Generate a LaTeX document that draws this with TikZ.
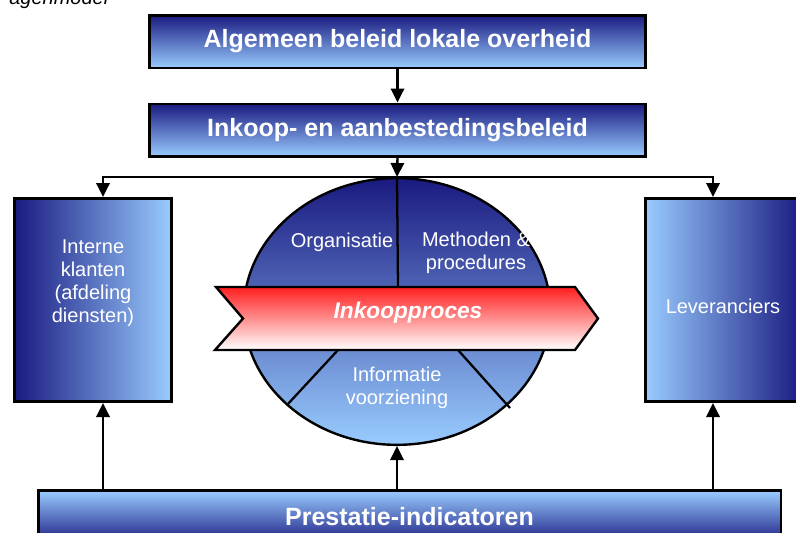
\documentclass[tikz,border=0pt]{standalone}
\usepackage{fontspec}
\setmainfont{Liberation Sans}
\usepackage{tikz}
\usetikzlibrary{arrows.meta,positioning,shapes.geometric}
\definecolor{navy}{RGB}{26,26,128}
\definecolor{sky}{RGB}{153,204,255}
\definecolor{procred}{RGB}{255,30,30}

\begin{document}
\begin{tikzpicture}[
  x=0.75pt, y=-0.75pt,
  every node/.style={font=\fontsize{15}{17.25}\selectfont, text=white},
  beleidbox/.style={draw, line width=2pt, top color=navy, bottom color=sky, minimum width=372pt, minimum height=39.5pt, inner sep=0pt, font=\fontsize{18.75}{22}\selectfont\bfseries},
  sidebox/.style={draw, line width=2pt, minimum width=118pt, minimum height=152.5pt, inner sep=0pt, align=center},
  edge/.style={-{Triangle[length=10.5pt,width=10pt]}, line width=1.8pt},
  divider/.style={line width=1.7pt}
]
\useasboundingbox (0,0) rectangle (796,532);
\node[text=black, font=\fontsize{15}{18}\selectfont\itshape, anchor=base east] (titel) at (113,4.5) {agenmodel};

\node[beleidbox] (algemeen) at (397.5,41.5) {Algemeen beleid lokale overheid};
\node[beleidbox, below=25pt of algemeen] (inkoop) {Inkoop- en aanbestedingsbeleid};
\node[sidebox, left color=navy, right color=sky] (klanten) at (93,300) {};
\node[align=center] (klantentekst) at (93,283.5) {Interne\\klanten\\(afdeling\\diensten)};
\node[sidebox, left color=sky, right color=navy] (leveranciers) at (724,300) {};
\node (levtekst) at (723,306) {Leveranciers};
\node[beleidbox, top color=sky, bottom color=navy, minimum width=557pt] (prestatie) at (409.5,517) {Prestatie-indicatoren};

\node[ellipse, draw, line width=1.8pt, top color=navy, bottom color=sky, minimum width=230pt, minimum height=200pt, inner sep=0pt] (kern) at (397,311.5) {};
\draw[divider] (kern.north) -- (398,287);
\draw[divider] (338,350) -- (287,405);
\draw[divider] (458,350) -- (510,408);
\draw[line width=1.8pt, top color=procred, bottom color=white] (216,287) -- (575,287) -- (598,318.5) -- (575,350) -- (215,350) -- (243,318.5) -- cycle;
\node[font=\fontsize{17}{20}\selectfont\bfseries\itshape] (proces) at (408,313) {Inkoopproces};
\node (organisatie) at (342,242) {Organisatie};
\node[align=center] (methoden) at (476,252.5) {Methoden \&\\procedures};
\node[align=center] (informatie) at (397,388) {Informatie\\voorziening};

\draw[edge] (algemeen) -- (inkoop);
\draw[edge] (inkoop.south) -- (kern.north);
\coordinate (hub) at (inkoop.south |- kern.north);
\draw[edge] (hub) -| (klanten.north -| 103,0);
\draw[edge] (hub) -| (leveranciers.north -| 713,0);
\draw[edge] (prestatie.north -| 103,0) -- (klanten.south -| 103,0);
\draw[edge] (prestatie.north -| kern) -- (kern.south);
\draw[edge] (prestatie.north -| 713,0) -- (leveranciers.south -| 713,0);
\end{tikzpicture}
\end{document}
